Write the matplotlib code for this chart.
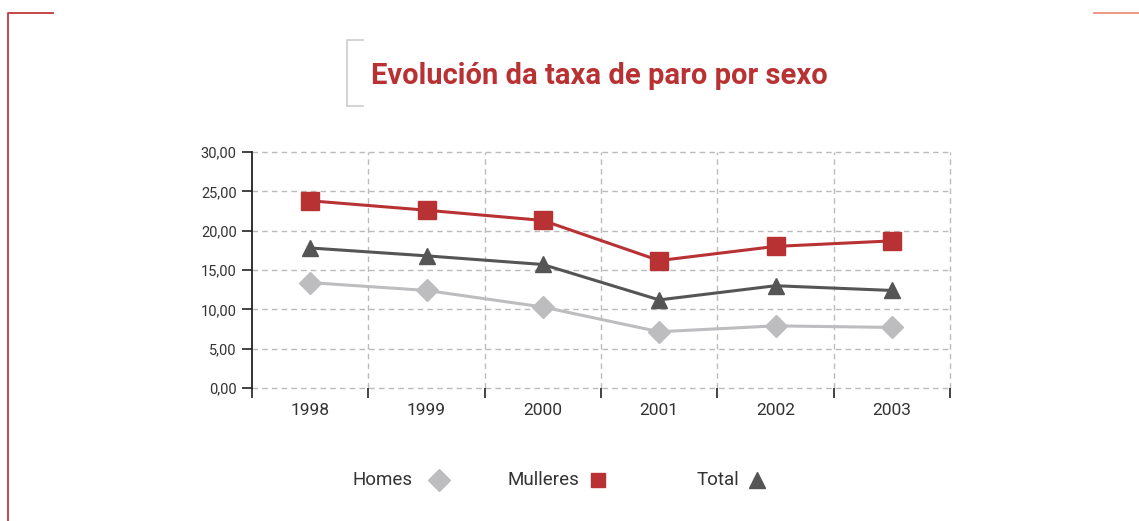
import numpy as np
import matplotlib
matplotlib.use('Agg')
import matplotlib.pyplot as plt
from matplotlib import font_manager
from matplotlib.lines import Line2D

names = set(f.name for f in font_manager.fontManager.ttflist)
narrow = 'Liberation Sans Narrow' if 'Liberation Sans Narrow' in names else 'Roboto'

years = ['1998', '1999', '2000', '2001', '2002', '2003']
homes = [13.4, 12.4, 10.3, 7.15, 7.9, 7.7]
mulleres = [23.8, 22.6, 21.3, 16.2, 18.0, 18.7]
total = [17.8, 16.8, 15.7, 11.2, 13.0, 12.4]
yticks = [0, 5, 10, 15, 20, 25, 30]

red = '#B83234'
dark = '#555555'
light = '#BDBDC0'
gridc = '#BBBBBB'
dash = (0, (4, 3))

fig = plt.figure(figsize=(11.39, 5.21), dpi=100)
ax = fig.add_axes([252/1139, 133/521, 698/1139, 236/521])

x = np.arange(len(years))
ax.plot(x, homes, color=light, lw=2.2, marker='D', ms=11, zorder=3)
ax.plot(x, total, color=dark, lw=2.2, marker='^', ms=12, zorder=4)
ax.plot(x, mulleres, color=red, lw=2.2, marker='s', ms=12.5, zorder=5)

ax.set_xlim(-0.5, 5.5)
ax.set_ylim(0, 30)
ax.set_yticks(yticks)
ax.set_yticklabels([('%.2f' % v).replace('.', ',') for v in yticks])
ax.set_xticks(x)
ax.set_xticklabels(years)
ax.set_xticks(np.arange(-0.5, 6.0, 1.0), minor=True)
ax.tick_params(axis='x', which='major', length=0, pad=11, labelsize=12.5, labelcolor='#333333')
ax.tick_params(axis='x', which='minor', length=7, width=1.2, color='#222222')
ax.tick_params(axis='y', length=7, width=1.2, color='#222222', labelsize=10.5, labelcolor='#333333', pad=4)
for lab in ax.get_xticklabels() + ax.get_yticklabels():
    lab.set_fontfamily(narrow)

# dashed grid, drawn unclipped so the edge lines show fully
for v in yticks:
    ax.axhline(v, ls=dash, color=gridc, lw=1, clip_on=False, zorder=1)
for v in np.arange(0.5, 6.0, 1.0):
    ax.axvline(v, ls=dash, color=gridc, lw=1, clip_on=False, zorder=1)
for s in ['top', 'right', 'bottom']:
    ax.spines[s].set_visible(False)
ax.spines['left'].set_color('#222222')
ax.spines['left'].set_linewidth(1.3)
ax.spines['left'].set_zorder(2)

# title and frame decorations
fig.text(599/1139, 1 - 76/521, 'Evolución da taxa de paro por sexo', color=red,
         fontsize=21, fontweight='bold', family=narrow, ha='center', va='center')
fig.add_artist(Line2D([363/1139, 347/1139, 347/1139, 363/1139],
                      [1 - 40/521, 1 - 40/521, 1 - 106/521, 1 - 106/521],
                      color='#CCCCCC', lw=1.2))
fig.add_artist(Line2D([53/1139, 7.5/1139, 7.5/1139], [1 - 12.5/521, 1 - 12.5/521, 0],
                      color='#C0393B', lw=1.3))
fig.add_artist(Line2D([1094/1139, 1139/1139], [1 - 12.5/521, 1 - 12.5/521],
                      color='#E8907A', lw=1.3))

# legend
ly = 1 - 480/521
fig.text(383/1139, ly, 'Homes', fontsize=13.5, family=narrow, color='#333333', ha='center', va='center')
fig.text(543/1139, ly, 'Mulleres', fontsize=13.5, family=narrow, color='#333333', ha='center', va='center')
fig.text(718/1139, ly, 'Total', fontsize=13.5, family=narrow, color='#333333', ha='center', va='center')
fig.add_artist(Line2D([439/1139], [ly], marker='D', ms=11, color=light, ls='none'))
fig.add_artist(Line2D([598/1139], [ly], marker='s', ms=10, color=red, ls='none'))
fig.add_artist(Line2D([757/1139], [ly], marker='^', ms=11, color=dark, ls='none'))

fig.savefig('out.png', dpi=100)
